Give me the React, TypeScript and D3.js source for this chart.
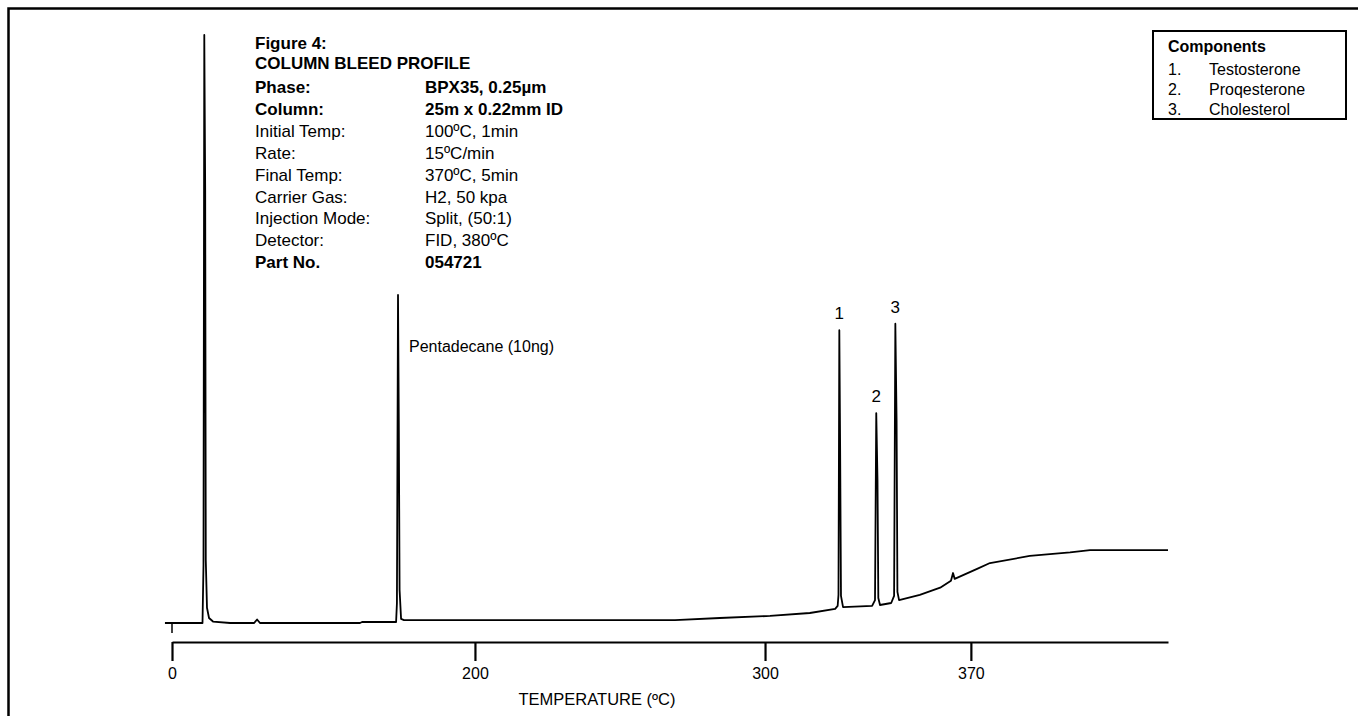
// App.tsx
import React, { useRef, useEffect } from 'react';
import * as d3 from 'd3';

// chromatogram trace: retention time (min) and detector signal (% of solvent peak)
const traceTime = [
  -0.17, 0.735, 0.759, 0.778, 0.8, 0.814, 0.843, 0.892, 0.988, 1.4,
  1.98, 2.05, 2.12, 4.53, 4.58, 5.4, 5.42, 5.446, 5.465, 5.484, 5.52, 5.59,
  12.12, 13.2, 14.41, 15.37, 15.98, 16.04, 16.06, 16.08, 16.1, 16.12, 16.17,
  16.87, 16.94, 16.97, 17.0, 17.02, 17.06, 17.33, 17.4, 17.43, 17.46, 17.48,
  17.52, 18.02, 18.51, 18.77, 18.82, 18.86, 19.4, 19.71, 20.67, 21.64, 22.12, 24.0,
];
const traceSignal = [
  0, 0, 9.9, 100, 73.6, 10.7, 2.6, 0.85, 0.25, 0,
  0, 0.6, 0, 0, 0.17, 0.17, 3.4, 55.8, 34.5, 5.6, 0.7, 0.5,
  0.5, 0.85, 1.2, 1.7, 2.4, 2.9, 4.8, 49.8, 29.4, 4.6, 2.7,
  2.9, 3.9, 35.7, 24.3, 4.25, 3.06, 3.4, 4.6, 50.9, 34.5, 5.3,
  3.9, 4.8, 6.0, 7.2, 8.5, 7.5, 9.2, 10.2, 11.4, 12.0, 12.4, 12.4,
];

// numbered peaks
const peakNames = ['1', '2', '3'];
const peakTime = [16.08, 16.97, 17.43];
const peakSignal = [49.8, 35.7, 50.9];

// internal standard
const stdLabel = 'Pentadecane (10ng)';
const stdTime = 5.446;
const stdSignal = 55.8;

// axis: time positions labelled with oven temperature
const tickTimes = [0, 7.3, 14.29, 19.25];
const tickLabels = ['0', '200', '300', '370'];

const titleLines = ['Figure 4:', 'COLUMN BLEED PROFILE'];
const infoLabels = ['Phase:', 'Column:', 'Initial Temp:', 'Rate:', 'Final Temp:', 'Carrier Gas:', 'Injection Mode:', 'Detector:', 'Part No.'];
const infoValues = ['BPX35, 0.25µm', '25m x 0.22mm ID', '100ºC, 1min', '15ºC/min', '370ºC, 5min', 'H2, 50 kpa', 'Split, (50:1)', 'FID, 380ºC', '054721'];
const infoBold = [true, true, false, false, false, false, false, false, true];

const legendTitle = 'Components';
const legendNums = ['1.', '2.', '3.'];
const legendNames = ['Testosterone', 'Proqesterone', 'Cholesterol'];

const FONT = '"Liberation Sans", Arial, Helvetica, sans-serif';

const Chromatogram = ({ width = 1358, height = 716 }) => {
  const ref = useRef<SVGSVGElement>(null);

  useEffect(() => {
    const svg = d3.select(ref.current)
      .attr('width', width)
      .attr('height', height);

    svg.selectAll('*').remove();

    const x = d3.scaleLinear().domain([0, 24]).range([172, 1168]);
    const y = d3.scaleLinear().domain([0, 100]).range([623, 35]);

    // page frame (top and left edges only)
    svg.append('path')
      .attr('d', `M8.5,${height} L8.5,8.5 L${width},8.5`)
      .attr('fill', 'none')
      .attr('stroke', '#000')
      .attr('stroke-width', 2.5);

    // trace
    const pts = traceTime.map((t, i) => [t, traceSignal[i]] as [number, number]);
    const line = d3.line<[number, number]>().x(d => x(d[0])).y(d => y(d[1]));
    svg.append('path')
      .datum(pts)
      .attr('d', line)
      .attr('fill', 'none')
      .attr('stroke', '#000')
      .attr('stroke-width', 1.8)
      .attr('stroke-linejoin', 'round');

    // small zero marker under baseline
    svg.append('line')
      .attr('x1', x(0)).attr('x2', x(0))
      .attr('y1', y(0)).attr('y2', y(0) + 10)
      .attr('stroke', '#000').attr('stroke-width', 1.5);

    // temperature axis
    const axisY = 642;
    const axis = svg.append('g')
      .attr('transform', `translate(0, ${axisY})`)
      .call(d3.axisBottom(x)
        .tickValues(tickTimes)
        .tickFormat((d, i) => tickLabels[i])
        .tickSize(19)
        .tickSizeOuter(0)
        .tickPadding(7));
    axis.select('.domain').attr('stroke-width', 2.2);
    axis.selectAll('.tick line').attr('stroke-width', 2.2);
    axis.selectAll('.tick text')
      .attr('font-family', FONT)
      .attr('font-size', 16)
      .attr('fill', '#000');

    svg.append('text')
      .attr('x', 597)
      .attr('y', 705)
      .attr('text-anchor', 'middle')
      .attr('font-family', FONT)
      .attr('font-size', 16.5)
      .text('TEMPERATURE (ºC)');

    // peak numbers
    svg.selectAll('.peak-label')
      .data(peakNames)
      .enter()
      .append('text')
      .attr('class', 'peak-label')
      .attr('x', (d, i) => x(peakTime[i]))
      .attr('y', (d, i) => y(peakSignal[i]) - 11)
      .attr('text-anchor', 'middle')
      .attr('font-family', FONT)
      .attr('font-size', 17)
      .text(d => d);

    svg.append('text')
      .attr('x', x(stdTime) + 11)
      .attr('y', y(stdSignal) + 57)
      .attr('font-family', FONT)
      .attr('font-size', 16)
      .text(stdLabel);

    // method text block
    const info = svg.append('g').attr('font-family', FONT).attr('font-size', 17);
    titleLines.forEach((t, i) => {
      info.append('text')
        .attr('x', 255)
        .attr('y', 49 + i * 19.5)
        .attr('font-weight', 'bold')
        .text(t);
    });
    infoLabels.forEach((t, i) => {
      const rowY = 93 + i * 21.9;
      info.append('text')
        .attr('x', 255).attr('y', rowY)
        .attr('font-weight', infoBold[i] ? 'bold' : 'normal')
        .text(t);
      info.append('text')
        .attr('x', 425).attr('y', rowY)
        .attr('font-weight', infoBold[i] ? 'bold' : 'normal')
        .text(infoValues[i]);
    });

    // components legend
    const leg = svg.append('g').attr('font-family', FONT).attr('font-size', 16);
    leg.append('rect')
      .attr('x', 1153).attr('y', 31)
      .attr('width', 193).attr('height', 88)
      .attr('fill', 'none')
      .attr('stroke', '#000')
      .attr('stroke-width', 2);
    leg.append('text')
      .attr('x', 1168).attr('y', 52)
      .attr('font-weight', 'bold')
      .text(legendTitle);
    legendNames.forEach((n, i) => {
      leg.append('text').attr('x', 1168).attr('y', 75 + i * 20).text(legendNums[i]);
      leg.append('text').attr('x', 1209).attr('y', 75 + i * 20).text(n);
    });
  }, [width, height]);

  return <svg ref={ref} style={{ position: 'absolute', left: 0, top: 0, background: '#fff' }}></svg>;
};

export default function App() {
  return <Chromatogram />;
}
